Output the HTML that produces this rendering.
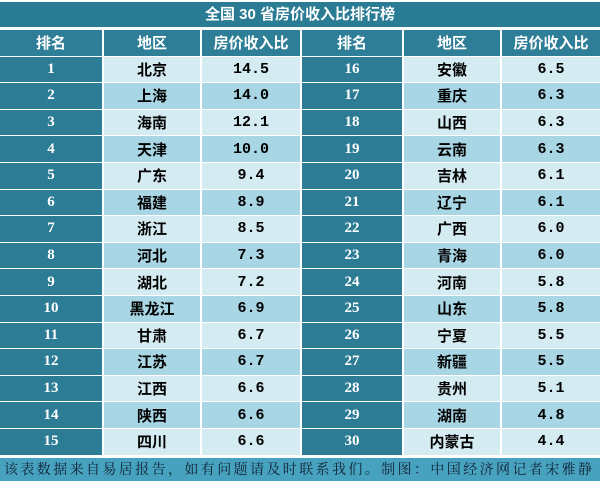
<!DOCTYPE html>
<html><head><meta charset="utf-8"><style>
body{margin:0;width:600px;height:484px;background:#fff;overflow:hidden;font-family:"Liberation Serif","Noto Serif CJK SC",serif;}
.t{position:absolute;left:0;top:2px;width:600px;height:25px;background:#2a7b94;color:#fff;font:bold 15px "Liberation Sans","Noto Sans CJK SC",sans-serif;text-align:center;line-height:25px}
table{position:absolute;left:0;top:29px;width:600px;border-collapse:separate;border-spacing:0 1px;table-layout:fixed}
td{height:25.6px;padding:0;text-align:center;font-size:15px;font-weight:bold;border-left:2px solid #fff}
td:first-child{border-left:0}
.h td{background:#2f7e97;color:#fff;font-family:"Liberation Sans","Noto Sans CJK SC",sans-serif;font-size:15px}
.r{background:#2d7c95;color:#fff;font-weight:bold}
.n{font-family:"Liberation Mono","Noto Sans CJK SC",monospace}
.c{font-family:"Noto Sans CJK SC",sans-serif}
tr.a td.l{background:#d5ebf2}
tr.b td.l{background:#a8d6e5}
.f{position:absolute;left:0;top:458px;width:600px;height:23px;background:#47a2bf;color:#123;font:14px "Noto Serif CJK SC",serif;letter-spacing:2.4px;line-height:23px;padding-left:4px;box-sizing:border-box;white-space:nowrap}
</style></head><body>
<div class="t">全国 30 省房价收入比排行榜</div>
<table>
<colgroup><col style="width:102px"><col style="width:98px"><col style="width:100px"><col style="width:102px"><col style="width:98px"><col style="width:100px"></colgroup>
<tr class="h"><td>排名</td><td>地区</td><td>房价收入比</td><td>排名</td><td>地区</td><td>房价收入比</td></tr>
<tr class="a"><td class="r">1</td><td class="l c">北京</td><td class="l n">14.5</td><td class="r">16</td><td class="l c">安徽</td><td class="l n">6.5</td></tr>
<tr class="b"><td class="r">2</td><td class="l c">上海</td><td class="l n">14.0</td><td class="r">17</td><td class="l c">重庆</td><td class="l n">6.3</td></tr>
<tr class="a"><td class="r">3</td><td class="l c">海南</td><td class="l n">12.1</td><td class="r">18</td><td class="l c">山西</td><td class="l n">6.3</td></tr>
<tr class="b"><td class="r">4</td><td class="l c">天津</td><td class="l n">10.0</td><td class="r">19</td><td class="l c">云南</td><td class="l n">6.3</td></tr>
<tr class="a"><td class="r">5</td><td class="l c">广东</td><td class="l n">9.4</td><td class="r">20</td><td class="l c">吉林</td><td class="l n">6.1</td></tr>
<tr class="b"><td class="r">6</td><td class="l c">福建</td><td class="l n">8.9</td><td class="r">21</td><td class="l c">辽宁</td><td class="l n">6.1</td></tr>
<tr class="a"><td class="r">7</td><td class="l c">浙江</td><td class="l n">8.5</td><td class="r">22</td><td class="l c">广西</td><td class="l n">6.0</td></tr>
<tr class="b"><td class="r">8</td><td class="l c">河北</td><td class="l n">7.3</td><td class="r">23</td><td class="l c">青海</td><td class="l n">6.0</td></tr>
<tr class="a"><td class="r">9</td><td class="l c">湖北</td><td class="l n">7.2</td><td class="r">24</td><td class="l c">河南</td><td class="l n">5.8</td></tr>
<tr class="b"><td class="r">10</td><td class="l c">黑龙江</td><td class="l n">6.9</td><td class="r">25</td><td class="l c">山东</td><td class="l n">5.8</td></tr>
<tr class="a"><td class="r">11</td><td class="l c">甘肃</td><td class="l n">6.7</td><td class="r">26</td><td class="l c">宁夏</td><td class="l n">5.5</td></tr>
<tr class="b"><td class="r">12</td><td class="l c">江苏</td><td class="l n">6.7</td><td class="r">27</td><td class="l c">新疆</td><td class="l n">5.5</td></tr>
<tr class="a"><td class="r">13</td><td class="l c">江西</td><td class="l n">6.6</td><td class="r">28</td><td class="l c">贵州</td><td class="l n">5.1</td></tr>
<tr class="b"><td class="r">14</td><td class="l c">陕西</td><td class="l n">6.6</td><td class="r">29</td><td class="l c">湖南</td><td class="l n">4.8</td></tr>
<tr class="a"><td class="r">15</td><td class="l c">四川</td><td class="l n">6.6</td><td class="r">30</td><td class="l c">内蒙古</td><td class="l n">4.4</td></tr>
</table>
<div class="f">该表数据来自易居报告，如有问题请及时联系我们。制图：中国经济网记者宋雅静</div>
</body></html>
